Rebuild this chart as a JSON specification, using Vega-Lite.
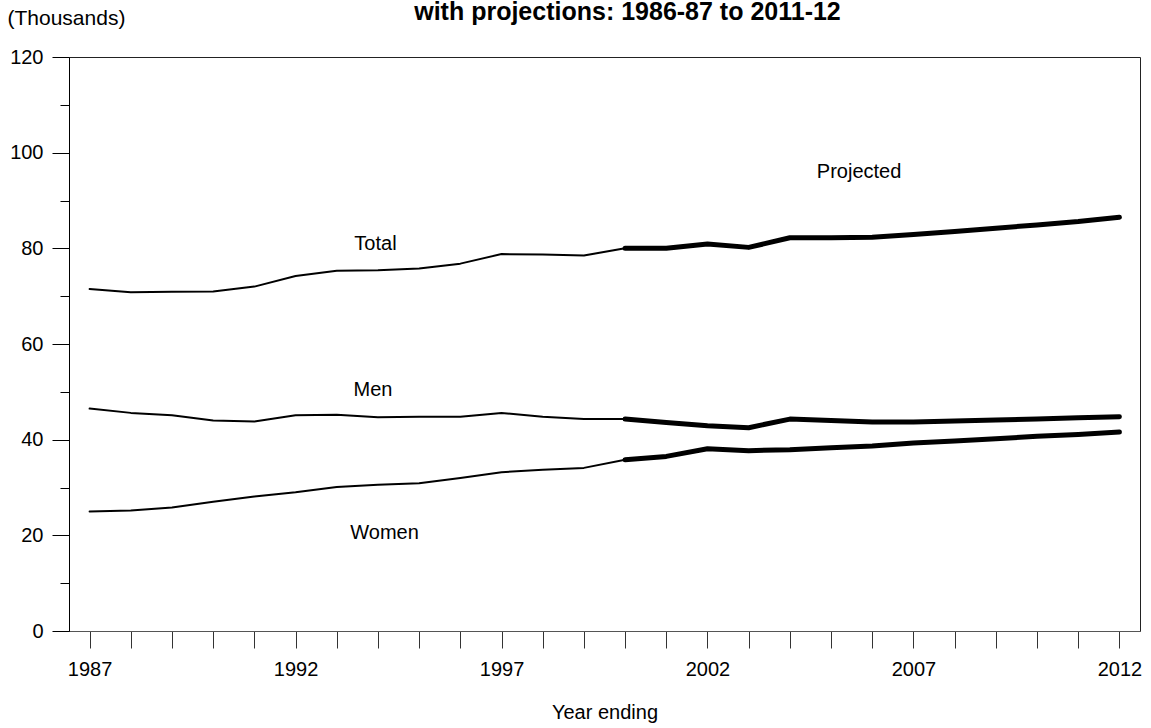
{
  "$schema": "https://vega.github.io/schema/vega-lite/v6.json",
  "autosize": "none",
  "width": 1071,
  "height": 574,
  "padding": {"left": 69, "top": 57, "right": 11, "bottom": 97},
  "background": "white",
  "title": {
    "text": "with projections: 1986-87 to 2011-12",
    "font": "Liberation Sans",
    "fontSize": 25,
    "fontWeight": "bold",
    "color": "#000",
    "anchor": "middle",
    "frame": "group",
    "dx": 23,
    "dy": 18,
    "offset": 0
  },
  "config": {
    "view": {"stroke": "#222", "strokeWidth": 1},
    "font": "Liberation Sans",
    "axis": {
      "labelFont": "Liberation Sans",
      "titleFont": "Liberation Sans",
      "labelFontSize": 20,
      "titleFontSize": 20,
      "labelColor": "#000",
      "titleColor": "#000",
      "titleFontWeight": "normal",
      "grid": false,
      "domainColor": "#000",
      "tickColor": "#000"
    }
  },
  "layer": [
    {
      "data": {
        "values": [
          {"year": 1987, "value": 71.5, "series": "Total", "period": "Actual"},
          {"year": 1988, "value": 70.8, "series": "Total", "period": "Actual"},
          {"year": 1989, "value": 70.9, "series": "Total", "period": "Actual"},
          {"year": 1990, "value": 71.0, "series": "Total", "period": "Actual"},
          {"year": 1991, "value": 72.0, "series": "Total", "period": "Actual"},
          {"year": 1992, "value": 74.2, "series": "Total", "period": "Actual"},
          {"year": 1993, "value": 75.3, "series": "Total", "period": "Actual"},
          {"year": 1994, "value": 75.4, "series": "Total", "period": "Actual"},
          {"year": 1995, "value": 75.8, "series": "Total", "period": "Actual"},
          {"year": 1996, "value": 76.8, "series": "Total", "period": "Actual"},
          {"year": 1997, "value": 78.8, "series": "Total", "period": "Actual"},
          {"year": 1998, "value": 78.7, "series": "Total", "period": "Actual"},
          {"year": 1999, "value": 78.5, "series": "Total", "period": "Actual"},
          {"year": 2000, "value": 80.0, "series": "Total", "period": "Actual"},
          {"year": 2000, "value": 80.0, "series": "Total", "period": "Projected"},
          {"year": 2001, "value": 80.0, "series": "Total", "period": "Projected"},
          {"year": 2002, "value": 80.9, "series": "Total", "period": "Projected"},
          {"year": 2003, "value": 80.2, "series": "Total", "period": "Projected"},
          {"year": 2004, "value": 82.2, "series": "Total", "period": "Projected"},
          {"year": 2005, "value": 82.2, "series": "Total", "period": "Projected"},
          {"year": 2006, "value": 82.3, "series": "Total", "period": "Projected"},
          {"year": 2007, "value": 82.9, "series": "Total", "period": "Projected"},
          {"year": 2008, "value": 83.5, "series": "Total", "period": "Projected"},
          {"year": 2009, "value": 84.2, "series": "Total", "period": "Projected"},
          {"year": 2010, "value": 84.9, "series": "Total", "period": "Projected"},
          {"year": 2011, "value": 85.6, "series": "Total", "period": "Projected"},
          {"year": 2012, "value": 86.5, "series": "Total", "period": "Projected"},
          {"year": 1987, "value": 46.5, "series": "Men", "period": "Actual"},
          {"year": 1988, "value": 45.6, "series": "Men", "period": "Actual"},
          {"year": 1989, "value": 45.1, "series": "Men", "period": "Actual"},
          {"year": 1990, "value": 44.0, "series": "Men", "period": "Actual"},
          {"year": 1991, "value": 43.8, "series": "Men", "period": "Actual"},
          {"year": 1992, "value": 45.1, "series": "Men", "period": "Actual"},
          {"year": 1993, "value": 45.2, "series": "Men", "period": "Actual"},
          {"year": 1994, "value": 44.7, "series": "Men", "period": "Actual"},
          {"year": 1995, "value": 44.8, "series": "Men", "period": "Actual"},
          {"year": 1996, "value": 44.8, "series": "Men", "period": "Actual"},
          {"year": 1997, "value": 45.6, "series": "Men", "period": "Actual"},
          {"year": 1998, "value": 44.8, "series": "Men", "period": "Actual"},
          {"year": 1999, "value": 44.3, "series": "Men", "period": "Actual"},
          {"year": 2000, "value": 44.3, "series": "Men", "period": "Actual"},
          {"year": 2000, "value": 44.3, "series": "Men", "period": "Projected"},
          {"year": 2001, "value": 43.6, "series": "Men", "period": "Projected"},
          {"year": 2002, "value": 42.9, "series": "Men", "period": "Projected"},
          {"year": 2003, "value": 42.5, "series": "Men", "period": "Projected"},
          {"year": 2004, "value": 44.3, "series": "Men", "period": "Projected"},
          {"year": 2005, "value": 44.0, "series": "Men", "period": "Projected"},
          {"year": 2006, "value": 43.7, "series": "Men", "period": "Projected"},
          {"year": 2007, "value": 43.7, "series": "Men", "period": "Projected"},
          {"year": 2008, "value": 43.9, "series": "Men", "period": "Projected"},
          {"year": 2009, "value": 44.1, "series": "Men", "period": "Projected"},
          {"year": 2010, "value": 44.3, "series": "Men", "period": "Projected"},
          {"year": 2011, "value": 44.6, "series": "Men", "period": "Projected"},
          {"year": 2012, "value": 44.8, "series": "Men", "period": "Projected"},
          {"year": 1987, "value": 25.0, "series": "Women", "period": "Actual"},
          {"year": 1988, "value": 25.2, "series": "Women", "period": "Actual"},
          {"year": 1989, "value": 25.8, "series": "Women", "period": "Actual"},
          {"year": 1990, "value": 27.0, "series": "Women", "period": "Actual"},
          {"year": 1991, "value": 28.1, "series": "Women", "period": "Actual"},
          {"year": 1992, "value": 29.0, "series": "Women", "period": "Actual"},
          {"year": 1993, "value": 30.1, "series": "Women", "period": "Actual"},
          {"year": 1994, "value": 30.6, "series": "Women", "period": "Actual"},
          {"year": 1995, "value": 30.9, "series": "Women", "period": "Actual"},
          {"year": 1996, "value": 32.0, "series": "Women", "period": "Actual"},
          {"year": 1997, "value": 33.2, "series": "Women", "period": "Actual"},
          {"year": 1998, "value": 33.7, "series": "Women", "period": "Actual"},
          {"year": 1999, "value": 34.1, "series": "Women", "period": "Actual"},
          {"year": 2000, "value": 35.8, "series": "Women", "period": "Actual"},
          {"year": 2000, "value": 35.8, "series": "Women", "period": "Projected"},
          {"year": 2001, "value": 36.5, "series": "Women", "period": "Projected"},
          {"year": 2002, "value": 38.1, "series": "Women", "period": "Projected"},
          {"year": 2003, "value": 37.7, "series": "Women", "period": "Projected"},
          {"year": 2004, "value": 37.9, "series": "Women", "period": "Projected"},
          {"year": 2005, "value": 38.3, "series": "Women", "period": "Projected"},
          {"year": 2006, "value": 38.7, "series": "Women", "period": "Projected"},
          {"year": 2007, "value": 39.3, "series": "Women", "period": "Projected"},
          {"year": 2008, "value": 39.7, "series": "Women", "period": "Projected"},
          {"year": 2009, "value": 40.2, "series": "Women", "period": "Projected"},
          {"year": 2010, "value": 40.7, "series": "Women", "period": "Projected"},
          {"year": 2011, "value": 41.1, "series": "Women", "period": "Projected"},
          {"year": 2012, "value": 41.6, "series": "Women", "period": "Projected"}
        ]
      },
      "mark": {"type": "line", "color": "#000", "strokeCap": "round", "strokeJoin": "round"},
      "encoding": {
        "x": {
          "field": "year",
          "type": "quantitative",
          "scale": {"domain": [1986.5, 2012.5], "nice": false, "zero": false},
          "axis": {
            "title": "Year ending",
            "values": [1987, 1988, 1989, 1990, 1991, 1992, 1993, 1994, 1995, 1996, 1997, 1998, 1999, 2000, 2001, 2002, 2003, 2004, 2005, 2006, 2007, 2008, 2009, 2010, 2011, 2012],
            "format": "d",
            "labelExpr": "(datum.value - 1987) % 5 === 0 ? datum.label : ''",
            "tickSize": 17,
            "labelPadding": 11,
            "labelFlush": false,
            "labelOverlap": false,
            "domainColor": "#555",
            "tickColor": "#333",
            "titleY": 87,
            "titleBaseline": "alphabetic"
          }
        },
        "y": {
          "field": "value",
          "type": "quantitative",
          "scale": {"domain": [0, 120], "nice": false},
          "axis": {
            "title": "(Thousands)",
            "titleAngle": 0,
            "titleAlign": "left",
            "titleBaseline": "alphabetic",
            "titleX": -62,
            "titleY": -33,
            "titleFontSize": 21,
            "values": [0, 10, 20, 30, 40, 50, 60, 70, 80, 90, 100, 110, 120],
            "labelExpr": "datum.value % 20 === 0 ? datum.label : ''",
            "tickSize": {"condition": {"test": "datum.value % 20 === 0", "value": 17}, "value": 9},
            "labelPadding": 9,
            "labelOverlap": false
          }
        },
        "detail": [{"field": "series"}, {"field": "period"}],
        "strokeWidth": {
          "field": "period",
          "type": "nominal",
          "scale": {"domain": ["Actual", "Projected"], "range": [2, 5]},
          "legend": null
        }
      }
    },
    {
      "data": {
        "values": [
          {"label": "Total", "year": 1993.94, "value": 79.7},
          {"label": "Men", "year": 1993.88, "value": 49.2},
          {"label": "Women", "year": 1994.16, "value": 19.2},
          {"label": "Projected", "year": 2005.68, "value": 94.7}
        ]
      },
      "mark": {"type": "text", "font": "Liberation Sans", "fontSize": 20, "color": "#000", "align": "center", "baseline": "alphabetic"},
      "encoding": {
        "x": {"field": "year", "type": "quantitative"},
        "y": {"field": "value", "type": "quantitative"},
        "text": {"field": "label"}
      }
    }
  ]
}
